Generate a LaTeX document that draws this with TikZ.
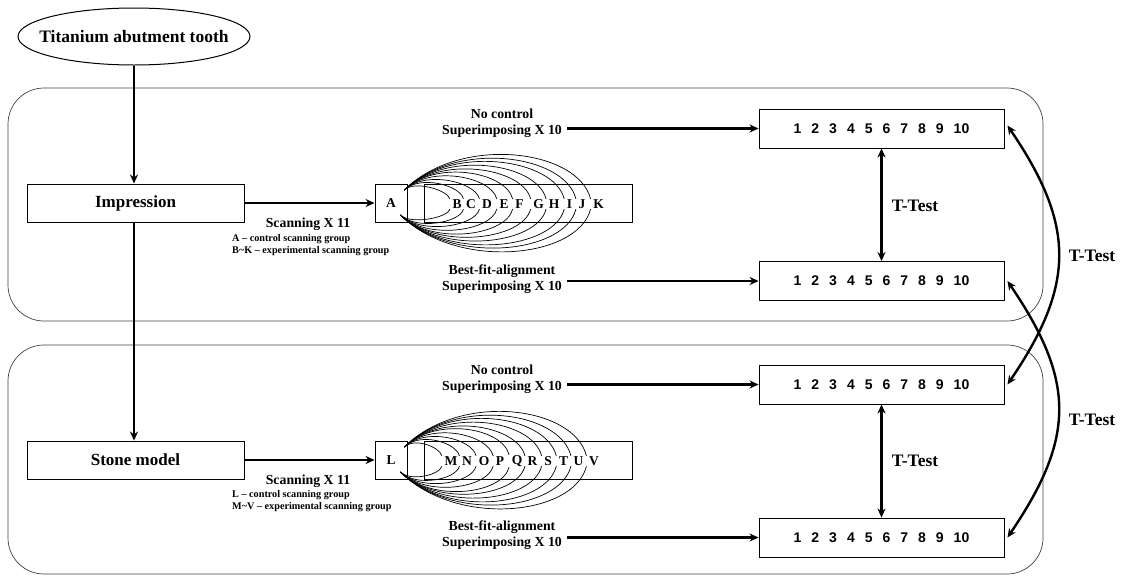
\documentclass[tikz,border=0pt]{standalone}
\usepackage{fontspec}
\setmainfont{Liberation Serif}
\newfontfamily\numfont{Liberation Sans}
\usetikzlibrary{arrows.meta,calc,shapes.geometric}
\newcommand{\numrow}{\numfont\bfseries\fontsize{14}{14}\selectfont 1\hspace{10pt}2\hspace{10pt}3\hspace{10pt}4\hspace{10pt}5\hspace{10pt}6\hspace{10pt}7\hspace{10pt}8\hspace{10pt}9\hspace{10pt}10}
\begin{document}
\begin{tikzpicture}[x=1pt,y=-1pt,
  container/.style={draw=black!75,line width=0.7pt,rounded corners=36pt,inner sep=0pt},
  boxn/.style={draw,line width=0.9pt,inner sep=0pt,minimum height=38pt},
  mainlbl/.style={font=\fontsize{17}{17}\selectfont\bfseries},
  lbl/.style={font=\fontsize{13.8}{16}\selectfont\bfseries,align=center,inner sep=0pt},
  small/.style={font=\fontsize{10.2}{12}\selectfont\bfseries,align=left,inner sep=0pt},
  letter/.style={font=\fontsize{13.5}{13.5}\selectfont\bfseries,inner sep=0.5pt},
  ttl/.style={font=\fontsize{17.5}{17.5}\selectfont\bfseries,inner sep=0pt},
  arr/.style={line width=2.4pt,-{Stealth[length=9pt,width=8pt]}},
  dbl/.style={line width=2.4pt,{Stealth[length=9pt,width=8pt]}-{Stealth[length=9pt,width=8pt]}},
  arcline/.style={line width=0.7pt}
]
\useasboundingbox (0,0) rectangle (1121,576);

% group containers
\node[container,minimum width=1035pt,minimum height=233pt] (g1) at (525.5,204.5) {};
\node[container,minimum width=1035pt,minimum height=229pt] (g2) at (525.5,459.5) {};

% top ellipse
\node[ellipse,draw,line width=1pt,minimum width=232pt,minimum height=57pt,inner sep=0pt] (tat) at (134,36.5) {\makebox[100pt][c]{\fontsize{17.5}{17.5}\selectfont\bfseries Titanium abutment tooth}};

% left boxes
\node[boxn,minimum width=217pt,mainlbl] (imp) at (135.5,203) {Impression};
\node[boxn,minimum width=217pt,mainlbl] (stone) at (135.5,460) {Stone model};

\draw[arr] (tat.south) -- (imp.north -| tat.south);
\draw[arr] (imp.south -| tat.south) -- (stone.north -| tat.south);

% scanning boxes
\node[boxn,minimum width=32pt,letter] (A) at (391,203) {A};
\node[boxn,minimum width=208pt] (bk) at (528,203) {};
\node[boxn,minimum width=32pt,letter] (L) at (391,460) {L};
\node[boxn,minimum width=208pt] (mv) at (528,460) {};

\draw[arr] (imp.east) -- (A.west);
\draw[arr] (stone.east) -- (L.west);

\node[lbl] (sc1) at (308,224) {Scanning X 11};
\node[small,anchor=north west] (sg1) at (232,234) {A -- control scanning group\\B\textasciitilde K -- experimental scanning group};
\node[lbl] (sc2) at (308,481) {Scanning X 11};
\node[small,anchor=north west] (sg2) at (232,490) {L -- control scanning group\\M\textasciitilde V -- experimental scanning group};

% letters and arcs (upper)
\foreach \l/\x/\k in {B/457/11,C/471/17,D/487/22,E/504/28,F/519.5/34,G/538.5/39,H/554/45,I/569.5/51,J/582/56,K/598.5/62}{
  \node[letter] (\l) at (\x,204) {\l};
  \draw[arcline] ($(A.east)+(-3,-13)$) .. controls +(0.9*\k,-0.9*\k) and +(-0.2*\k,-0.8*\k) .. ($(\l.north west)+(-2,0)$);
  \draw[arcline] ($(A.east)+(-7,12)$) .. controls +(0.9*\k,0.9*\k) and +(-0.2*\k,0.8*\k) .. ($(\l.south west)+(-2,0)$);
}
% letters and arcs (lower)
\foreach \l/\x/\k in {M/451/11,N/467/17,O/484/22,P/500/28,Q/517/34,R/532.5/39,S/548/45,T/563.5/51,U/578.5/56,V/594/62}{
  \node[letter] (\l) at (\x,461) {\l};
  \draw[arcline] ($(L.east)+(-3,-13)$) .. controls +(0.9*\k,-0.9*\k) and +(-0.2*\k,-0.8*\k) .. ($(\l.north west)+(-2,0)$);
  \draw[arcline] ($(L.east)+(-7,12)$) .. controls +(0.9*\k,0.9*\k) and +(-0.2*\k,0.8*\k) .. ($(\l.south west)+(-2,0)$);
}

% result boxes
\node[boxn,minimum width=245pt,minimum height=39pt] (n1) at (881.5,128.5) {\numrow};
\node[boxn,minimum width=245pt,minimum height=39pt] (n2) at (881.5,281) {\numrow};
\node[boxn,minimum width=245pt,minimum height=39pt] (n3) at (881.5,384.5) {\numrow};
\node[boxn,minimum width=245pt,minimum height=39pt] (n4) at (881.5,537.5) {\numrow};

% method labels
\node[lbl] (nc1) at (502,123) {No control\\Superimposing X 10};
\node[lbl] (bf1) at (502,279) {Best-fit-alignment\\Superimposing X 10};
\node[lbl] (nc2) at (502,379) {No control\\Superimposing X 10};
\node[lbl] (bf2) at (502,535) {Best-fit-alignment\\Superimposing X 10};

\draw[arr] ($(n1.west -| nc1.east)+(5,0)$) -- (n1.west);
\draw[arr] ($(n2.west -| bf1.east)+(5,0)$) -- (n2.west);
\draw[arr] ($(n3.west -| nc2.east)+(5,0)$) -- (n3.west);
\draw[arr] ($(n4.west -| bf2.east)+(5,0)$) -- (n4.west);

% t-tests
\draw[dbl] (n1.south) -- (n2.north);
\node[ttl] (t1) at (915,206) {T-Test};
\draw[dbl] (n3.south) -- (n4.north);
\node[ttl] (t2) at (915,461) {T-Test};

\draw[dbl] ($(n1.east)+(3,-3)$) .. controls +(68,100) and +(68,-100) .. ($(n3.east)+(3,0)$);
\draw[dbl] ($(n2.east)+(3,0)$) .. controls +(68,100) and +(68,-100) .. ($(n4.east)+(3,0)$);
\node[ttl] (t3) at (1092,256) {T-Test};
\node[ttl] (t4) at (1092,420) {T-Test};
\end{tikzpicture}
\end{document}
